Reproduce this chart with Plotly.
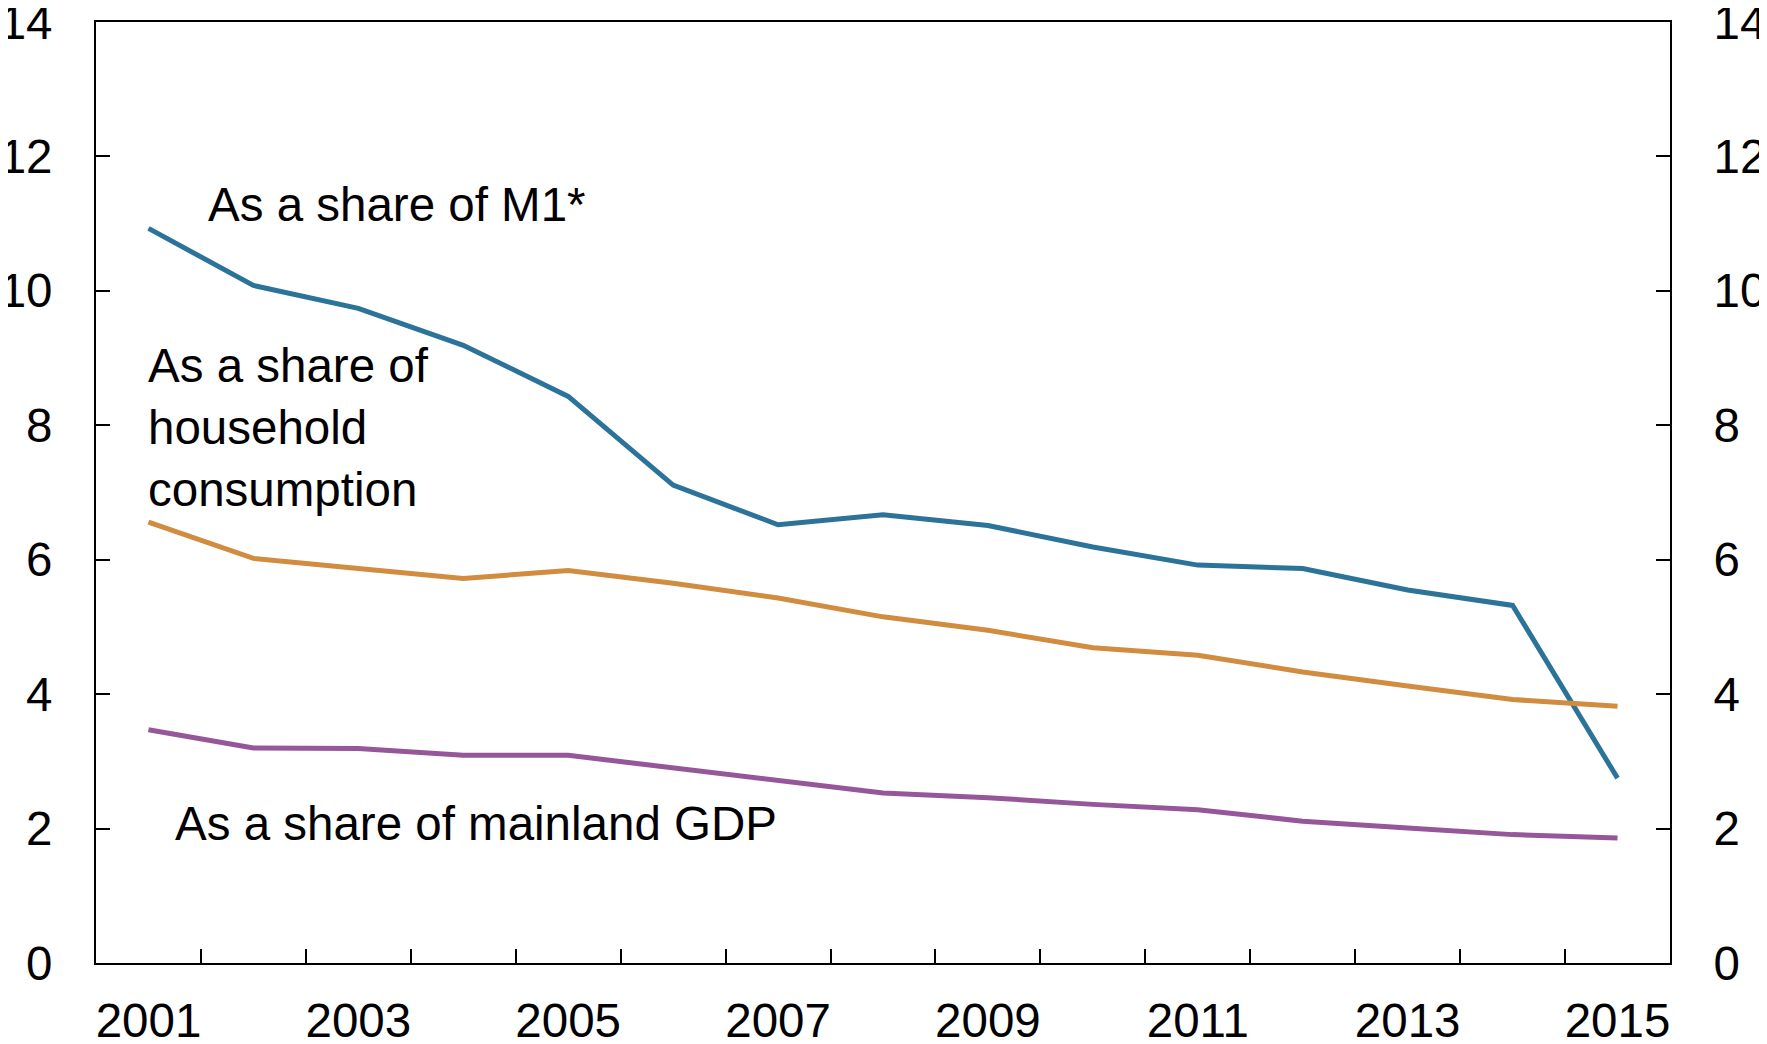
import plotly.graph_objects as go

years = list(range(2001, 2016))
share_m1 = [10.93, 10.08, 9.74, 9.19, 8.43, 7.11, 6.52, 6.67, 6.51, 6.19, 5.92, 5.87, 5.55, 5.32, 2.75]
share_consumption = [6.56, 6.02, 5.87, 5.72, 5.84, 5.65, 5.43, 5.15, 4.95, 4.69, 4.58, 4.33, 4.12, 3.92, 3.82]
share_gdp = [3.47, 3.20, 3.19, 3.09, 3.09, 2.90, 2.72, 2.53, 2.46, 2.36, 2.28, 2.11, 2.01, 1.91, 1.86]

x_tick_labels = [str(y) for y in range(2001, 2016, 2)]
y_ticks = list(range(0, 15, 2))

FONT = "Liberation Sans, Arial, sans-serif"
FS = 47.5

fig = go.Figure()
fig.add_trace(go.Scatter(x=years, y=share_m1, mode="lines",
                         line=dict(color="#2C7399", width=5), showlegend=False))
fig.add_trace(go.Scatter(x=years, y=share_consumption, mode="lines",
                         line=dict(color="#D18C40", width=5), showlegend=False))
fig.add_trace(go.Scatter(x=years, y=share_gdp, mode="lines",
                         line=dict(color="#96569A", width=5), showlegend=False))
# invisible trace to activate right axis
fig.add_trace(go.Scatter(x=[years[0]], y=[0], yaxis="y2", mode="markers",
                         marker=dict(opacity=0), showlegend=False, hoverinfo="skip"))

annotations = [
    dict(text="As a share of M1*", x=2001.55, y=11.28),
    dict(text="As a share of<br>household<br>consumption", x=2000.98, y=7.96),
    dict(text="As a share of mainland GDP", x=2001.23, y=2.08),
]
for a in annotations:
    fig.add_annotation(text=a["text"], x=a["x"], y=a["y"], xref="x", yref="y",
                       xanchor="left", yanchor="middle", align="left", showarrow=False,
                       font=dict(family=FONT, size=FS, color="black"))

axis_font = dict(family=FONT, size=FS, color="black")
fig.update_layout(
    width=1759, height=1036,
    margin=dict(l=88, r=97, t=14, b=81),
    paper_bgcolor="white", plot_bgcolor="white",
    xaxis=dict(range=[2000.5, 2015.5], tickvals=[int(t) for t in x_tick_labels],
               ticktext=x_tick_labels, ticks="", showgrid=False, zeroline=False,
               showline=True, linecolor="black", linewidth=2, mirror=True,
               tickfont=axis_font, ticklabelstandoff=15, automargin=False,
               ticklabeloverflow="allow",
               minor=dict(tickvals=[y + 0.5 for y in years[:-1]], ticks="inside",
                          ticklen=14, tickwidth=2, tickcolor="black", showgrid=False)),
    yaxis=dict(range=[0, 14], tickvals=y_ticks, ticks="inside", ticklen=14, tickwidth=2,
               tickcolor="black", showgrid=False, zeroline=False, showline=True,
               linecolor="black", linewidth=2, tickfont=axis_font, ticklabelstandoff=32,
               automargin=False, ticklabeloverflow="allow"),
    yaxis2=dict(range=[0, 14], tickvals=y_ticks, ticks="inside", ticklen=14, tickwidth=2,
                tickcolor="black", showgrid=False, zeroline=False, showline=True,
                linecolor="black", linewidth=2, tickfont=axis_font, side="right",
                overlaying="y", ticklabelstandoff=32, automargin=False,
                ticklabeloverflow="allow"),
)

fig.write_html("out.html")
